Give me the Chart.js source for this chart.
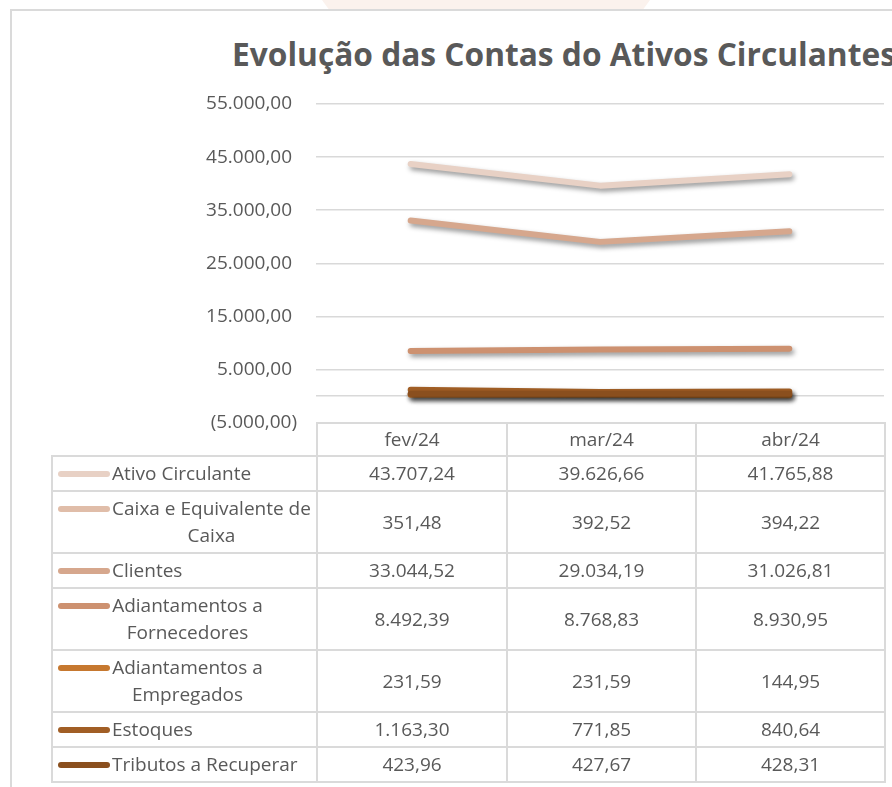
<!DOCTYPE html>
<html lang="pt-BR">
<head>
  <meta charset="UTF-8">
  <title>Evolução das Contas do Ativos Circulantes</title>
  <script src="https://cdn.jsdelivr.net/npm/chart.js"></script>
  <style>
    body {
      margin: 0;
      width: 892px;
      height: 787px;
      overflow: hidden;
      background: #fff;
      font-family: "Open Sans", sans-serif;
      color: #595959;
      position: relative;
    }
    .faixa {
      position: absolute;
      left: 322px;
      top: 0;
      width: 328px;
      height: 9px;
      background: #fbf2ed;
      clip-path: polygon(0 0, 100% 0, 98% 100%, 2% 100%);
    }
    .cartao {
      position: absolute;
      left: 10px;
      top: 9px;
      width: 900px;
      height: 800px;
      border-left: 2px solid #dadada;
      border-top: 2px solid #dadada;
    }
    h1 {
      position: absolute;
      left: 232px;
      top: 32px;
      margin: 0;
      font-size: 31.7px;
      font-weight: 700;
      white-space: nowrap;
      color: #595959;
    }
    canvas {
      position: absolute;
      left: 0;
      top: 0;
    }
    table {
      position: absolute;
      left: 51px;
      top: 422px;
      border-collapse: collapse;
      font-size: 19px;
      table-layout: fixed;
    }
    td {
      border: 2px solid #dadada;
      text-align: center;
      vertical-align: middle;
      line-height: 27px;
      padding: 3px 0;
    }
    tr.cab td { padding: 2px 0; }
    td.vazio { border-left: none; border-top: none; }
    td.nome {
      text-align: left;
      vertical-align: top;
      padding-left: 5px;
      white-space: nowrap;
    }
    .chave {
      display: inline-block;
      width: 52px;
      height: 6px;
      border-radius: 3px;
      margin: 11px 2px 0 0;
      vertical-align: top;
    }
    .rot {
      display: inline-block;
      white-space: normal;
      max-width: 204px;
      text-align: center;
      vertical-align: top;
    }
  </style>
</head>
<body>
  <div class="faixa"></div>
  <div class="cartao"></div>
  <h1>Evolução das Contas do Ativos Circulantes</h1>
  <canvas id="grafico" width="892" height="453"></canvas>
  <table id="tabela"></table>

  <script>
    const meses = ["fev/24", "mar/24", "abr/24"];
    const contas = [
      "Ativo Circulante",
      "Caixa e Equivalente de Caixa",
      "Clientes",
      "Adiantamentos a Fornecedores",
      "Adiantamentos a Empregados",
      "Estoques",
      "Tributos a Recuperar"
    ];
    const ativoCirculante = [43707.24, 39626.66, 41765.88];
    const caixa = [351.48, 392.52, 394.22];
    const clientes = [33044.52, 29034.19, 31026.81];
    const adiantFornecedores = [8492.39, 8768.83, 8930.95];
    const adiantEmpregados = [231.59, 231.59, 144.95];
    const estoques = [1163.30, 771.85, 840.64];
    const tributos = [423.96, 427.67, 428.31];
    const valores = [ativoCirculante, caixa, clientes, adiantFornecedores, adiantEmpregados, estoques, tributos];
    const cores = ["#e8d1c5", "#e0bda9", "#d6a78d", "#cd9170", "#c6782f", "#a15e25", "#8a4f1e"];

    const eixoMin = -5000;
    const eixoMax = 55000;
    const passo = 10000;

    function formata(v) {
      const neg = v < 0;
      let [i, d] = Math.abs(v).toFixed(2).split(".");
      i = i.replace(/\B(?=(\d{3})+(?!\d))/g, ".");
      const s = i + "," + d;
      return neg ? "(" + s + ")" : s;
    }

    // tabela de dados abaixo do gráfico
    const tabela = document.getElementById("tabela");
    let html = '<colgroup><col style="width:265px"><col style="width:190px"><col style="width:189px"><col style="width:189px"></colgroup>';
    html += '<tr class="cab"><td class="vazio"></td>' + meses.map(m => "<td>" + m + "</td>").join("") + "</tr>";
    contas.forEach((nome, k) => {
      html += '<tr><td class="nome"><span class="chave" style="background:' + cores[k] + '"></span><span class="rot">' + nome + "</span></td>";
      html += valores[k].map(v => "<td>" + formata(v) + "</td>").join("") + "</tr>";
    });
    tabela.innerHTML = html;

    // ajusta a largura dos rótulos quebrados à linha mais larga
    document.querySelectorAll(".rot").forEach(el => {
      const r = document.createRange();
      r.selectNodeContents(el);
      const linhas = Array.from(r.getClientRects());
      if (linhas.length > 1) {
        const w = Math.max(...linhas.map(l => l.width));
        el.style.width = Math.ceil(w) + "px";
      }
    });

    const sombra = {
      id: "sombra",
      beforeDatasetDraw(chart) {
        const c = chart.ctx;
        c.save();
        c.shadowColor = "rgba(0,0,0,0.42)";
        c.shadowBlur = 5;
        c.shadowOffsetX = 2;
        c.shadowOffsetY = 3;
      },
      afterDatasetDraw(chart) {
        chart.ctx.restore();
      }
    };

    Chart.defaults.font.family = "'Open Sans', sans-serif";
    Chart.defaults.color = "#595959";

    new Chart(document.getElementById("grafico").getContext("2d"), {
      type: "line",
      data: {
        labels: meses,
        datasets: contas.map((nome, k) => ({
          label: nome,
          data: valores[k],
          borderColor: cores[k],
          backgroundColor: cores[k],
          borderWidth: 6,
          borderCapStyle: "round",
          borderJoinStyle: "round",
          pointRadius: 0,
          tension: 0,
          order: contas.length - k
        }))
      },
      options: {
        responsive: false,
        animation: false,
        layout: { padding: { top: 104, right: 8, bottom: 7, left: 0 } },
        plugins: {
          legend: { display: false },
          tooltip: { enabled: false }
        },
        scales: {
          x: {
            display: false,
            offset: true
          },
          y: {
            min: eixoMin,
            max: eixoMax,
            border: { display: false },
            grid: { color: "#d9d9d9", lineWidth: 1.5, drawTicks: false },
            ticks: {
              stepSize: passo,
              autoSkip: false,
              padding: 19,
              font: { size: 19 },
              color: "#595959",
              callback: v => v === 0 ? "" : (v < 0 ? formata(v) : formata(v) + " ")
            },
            afterBuildTicks(scale) {
              scale.ticks.push({ value: 0 });
              scale.ticks.sort((a, b) => a.value - b.value);
            },
            afterFit(scale) {
              scale.width = 316;
            }
          }
        }
      },
      plugins: [sombra]
    });
  </script>
</body>
</html>
